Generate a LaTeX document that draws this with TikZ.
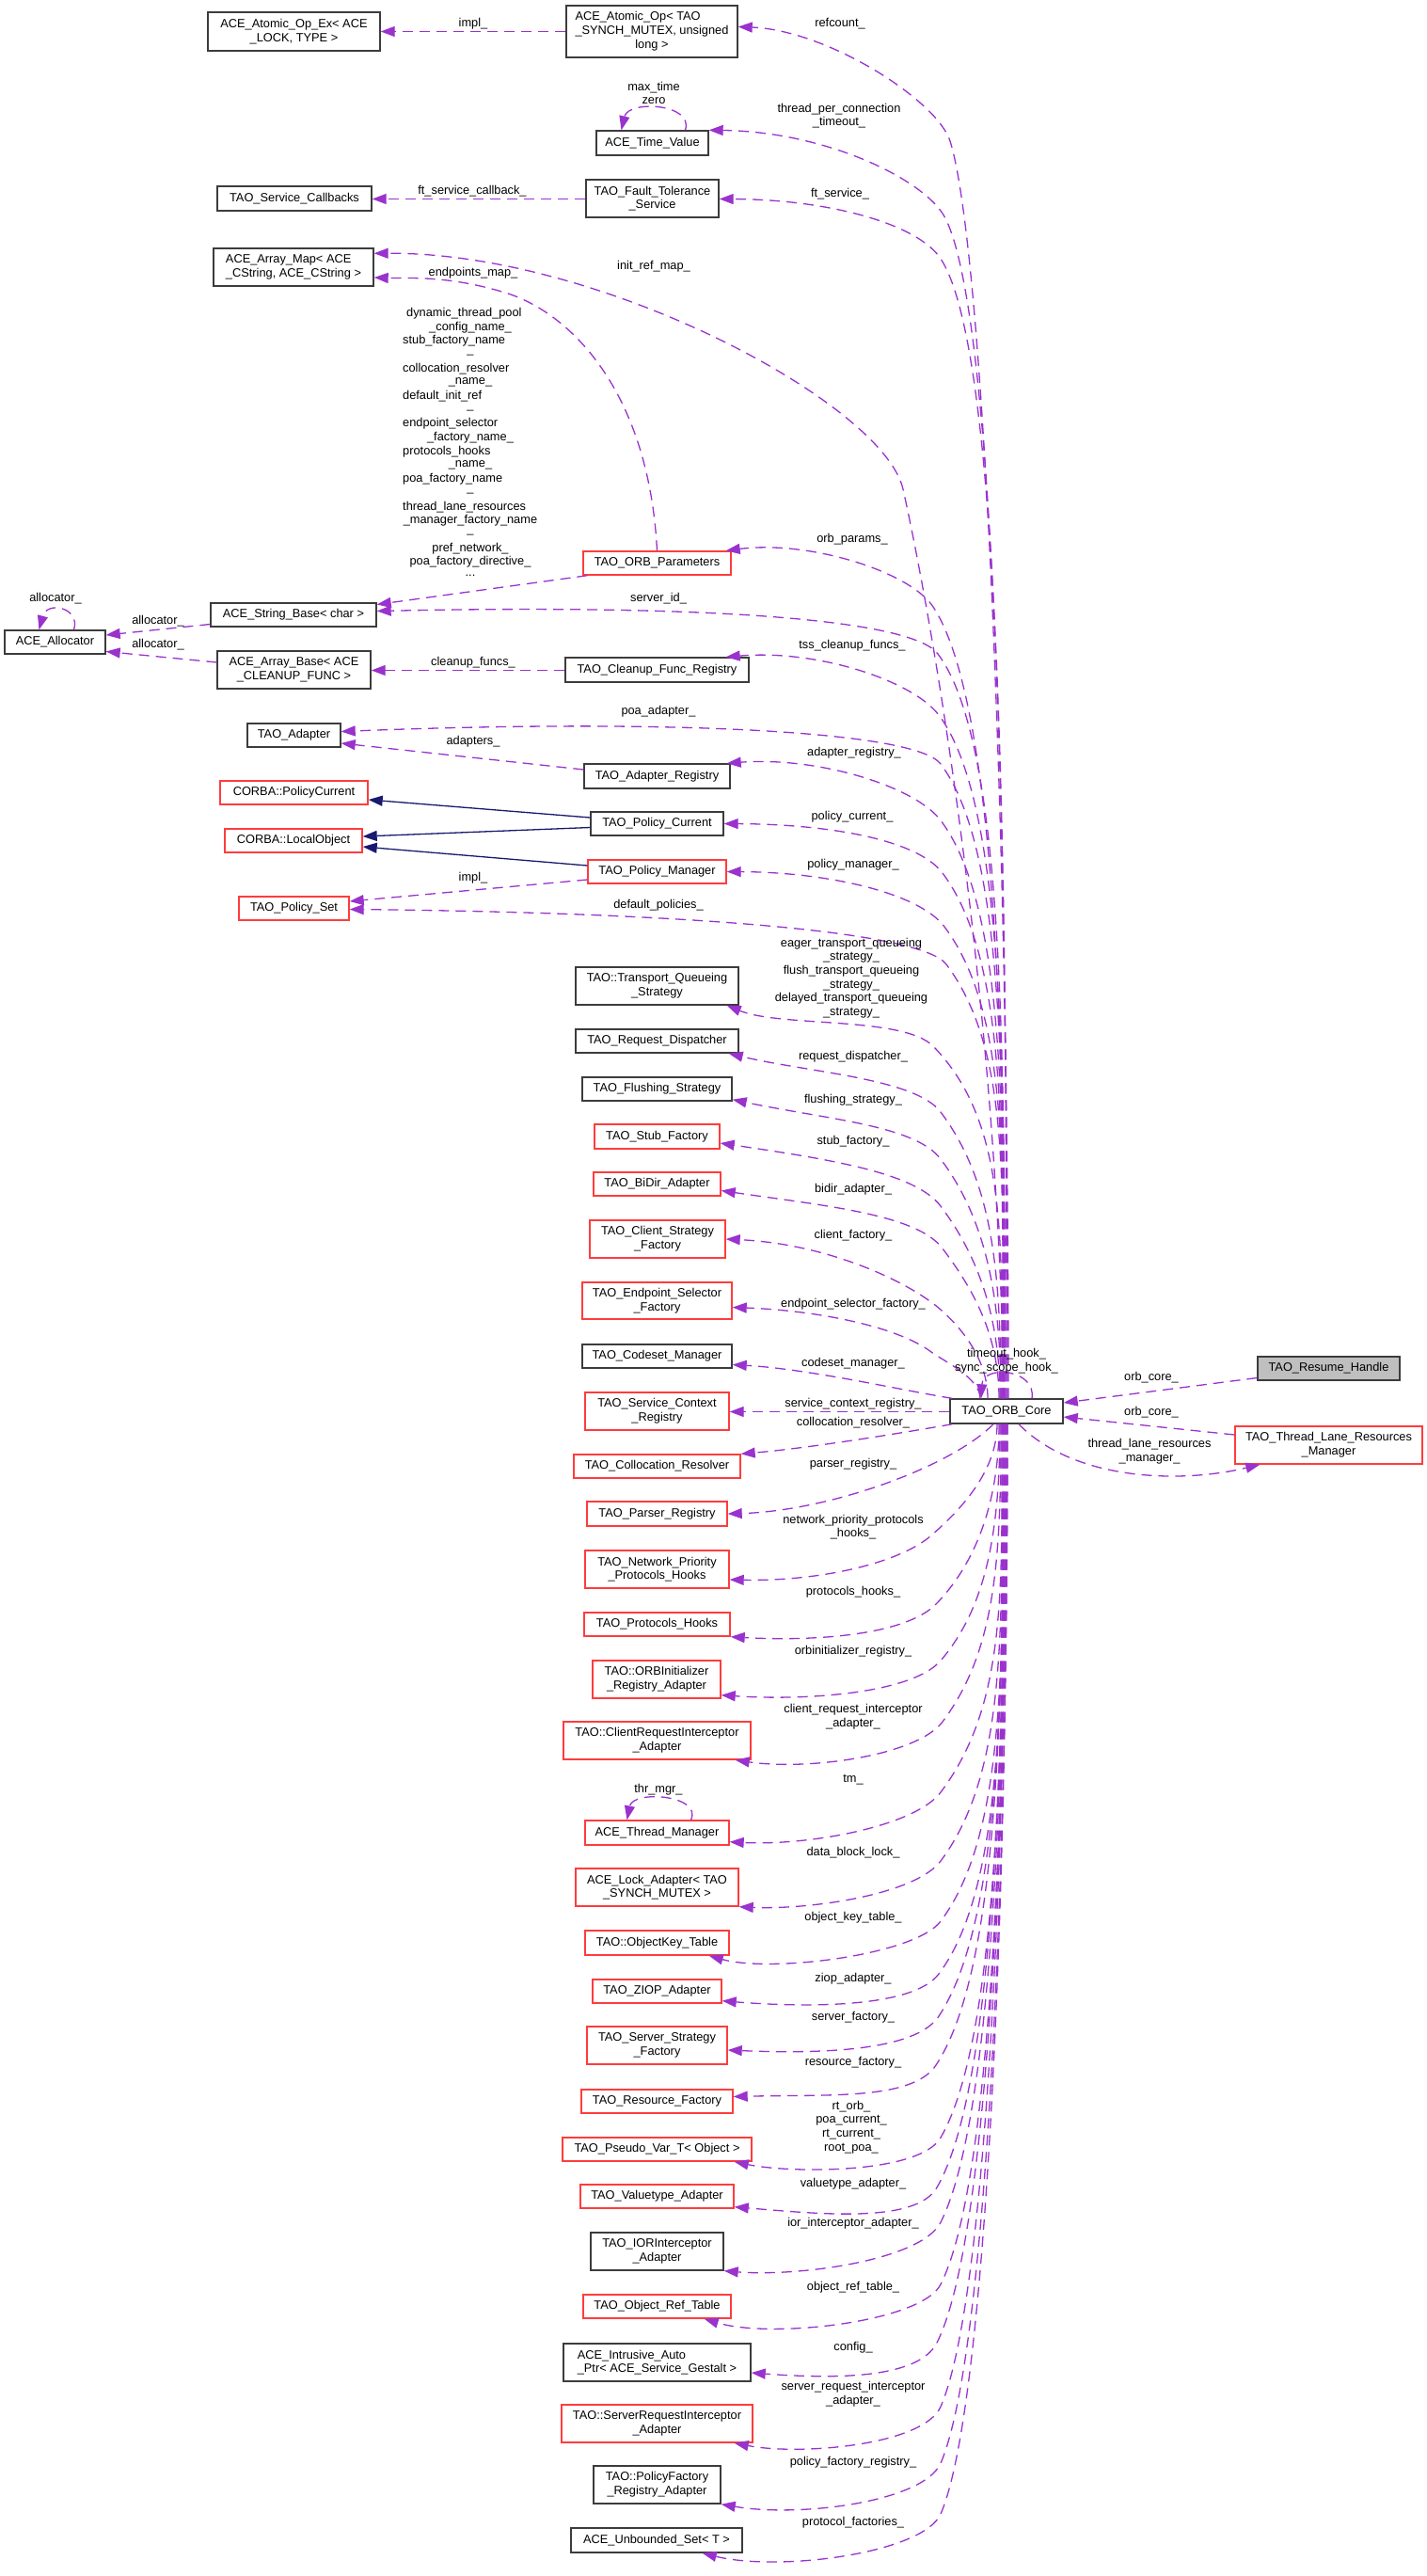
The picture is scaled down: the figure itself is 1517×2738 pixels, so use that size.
\documentclass[tikz,border=0pt]{standalone}
\usepackage{fontspec}
\setmainfont{Liberation Sans}
\usetikzlibrary{arrows.meta,calc}
\definecolor{memcol}{RGB}{154,50,205}
\definecolor{inhcol}{RGB}{25,25,112}
\definecolor{bred}{RGB}{255,60,60}
\definecolor{bblk}{RGB}{60,60,60}
\definecolor{gfill}{RGB}{191,191,191}
\tikzset{
  every node/.style={font=\fontsize{12.8}{14.7}\selectfont},
  box/.style={draw=bblk, line width=1.4pt, inner sep=0pt, align=center, fill=white},
  rbox/.style={box, draw=bred},
  gbox/.style={box, fill=gfill},
  lbl/.style={inner sep=0pt, align=center},
  memedge/.style={draw=memcol, line width=1.3pt, dash pattern=on 11pt off 7pt, -{Triangle[length=15pt,width=11pt,fill=memcol]}},
  inhedge/.style={draw=inhcol, line width=1.3pt, -{Triangle[length=15pt,width=11pt,fill=inhcol]}},
}
% box: style, x1, y1, x2, y2, name, text
\newcommand\bx[7]{\node[#1, minimum width={#4-#2}, minimum height={#5-#3}] (#6) at ({(#2+#4)/2},{(#3+#5)/2}) {#7};}
% upper member edge from core top
\newcommand\uedge[8]{\draw[memedge] ($(core.north)+(#1,0)$) .. controls ({1070+#1},{1487-0.45*(1487-#3)}) and ({#2-min(0.3*(1487-#3),120)*(#4)},{#3-min(0.3*(1487-#3),120)*(#5)}) .. (#2,#3) .. controls ({#2+45*(#4)},{#3+45*(#5)}) and (#6,#7) .. #8;}
% lower member edge from core bottom
\newcommand\ledge[8]{\draw[memedge] ($(core.south)+(#1,0)$) .. controls ({1070+#1},{1513+0.45*(#3-1513)}) and ({#2-min(0.3*(#3-1513),120)*(#4)},{#3-min(0.3*(#3-1513),120)*(#5)}) .. (#2,#3) .. controls ({#2+45*(#4)},{#3+45*(#5)}) and (#6,#7) .. #8;}

\begin{document}
\begin{tikzpicture}[x=1pt,y=-1pt]
\useasboundingbox (0,0) rectangle (1517,2738);

% ---------------- nodes ----------------
\bx{box}{221}{13}{404}{54}{atomicopex}{ACE\_Atomic\_Op\_Ex< ACE\\\_LOCK, TYPE >}
\bx{box}{602}{6}{784}{61}{atomicop}{\begin{tabular}{@{}l@{}}ACE\_Atomic\_Op< TAO\\\_SYNCH\_MUTEX, unsigned\\\multicolumn{1}{@{}c@{}}{long >}\end{tabular}}
\bx{box}{634}{139}{753}{165}{timevalue}{ACE\_Time\_Value}
\bx{box}{231}{198}{395}{224}{servicecallbacks}{TAO\_Service\_Callbacks}
\bx{box}{623}{191}{764}{231}{faulttol}{TAO\_Fault\_Tolerance\\\_Service}
\bx{box,align=left}{227}{264}{397}{304}{arraymap}{ACE\_Array\_Map< ACE\\\_CString, ACE\_CString >}
\bx{rbox}{620}{586}{777}{611}{orbparams}{TAO\_ORB\_Parameters}
\bx{box}{5}{670}{112}{695}{allocator}{ACE\_Allocator}
\bx{box}{224}{641}{400}{666}{stringbase}{ACE\_String\_Base< char >}
\bx{box}{231}{692}{394}{732}{arraybase}{ACE\_Array\_Base< ACE\\\_CLEANUP\_FUNC >}
\bx{box}{601}{699}{796}{725}{cleanupreg}{TAO\_Cleanup\_Func\_Registry}
\bx{box}{263}{769}{362}{794}{adapter}{TAO\_Adapter}
\bx{box}{621}{812}{776}{838}{adapterreg}{TAO\_Adapter\_Registry}
\bx{rbox}{234}{830}{391}{855}{policycurrentC}{CORBA::PolicyCurrent}
\bx{rbox}{239}{881}{385}{906}{localobject}{CORBA::LocalObject}
\bx{box}{628}{863}{769}{888}{policycurrent}{TAO\_Policy\_Current}
\bx{rbox}{625}{914}{772}{939}{policymanager}{TAO\_Policy\_Manager}
\bx{rbox}{254}{953}{371}{978}{policyset}{TAO\_Policy\_Set}
\bx{box}{612}{1028}{785}{1068}{tqs}{TAO::Transport\_Queueing\\\_Strategy}
\bx{box}{612}{1094}{785}{1119}{reqdisp}{TAO\_Request\_Dispatcher}
\bx{box}{619}{1145}{778}{1170}{flushing}{TAO\_Flushing\_Strategy}
\bx{rbox}{632}{1195}{765}{1221}{stubfactory}{TAO\_Stub\_Factory}
\bx{rbox}{631}{1246}{766}{1271}{bidir}{TAO\_BiDir\_Adapter}
\bx{rbox}{627}{1297}{771}{1337}{clientstrat}{TAO\_Client\_Strategy\\\_Factory}
\bx{rbox}{619}{1363}{778}{1402}{endpointsel}{TAO\_Endpoint\_Selector\\\_Factory}
\bx{box}{619}{1429}{778}{1454}{codeset}{TAO\_Codeset\_Manager}
\bx{rbox}{622}{1480}{775}{1520}{svcctx}{TAO\_Service\_Context\\\_Registry}
\bx{rbox}{610}{1546}{787}{1571}{colloc}{TAO\_Collocation\_Resolver}
\bx{rbox}{624}{1596}{773}{1622}{parser}{TAO\_Parser\_Registry}
\bx{rbox}{622}{1648}{775}{1688}{netprio}{TAO\_Network\_Priority\\\_Protocols\_Hooks}
\bx{rbox}{621}{1714}{776}{1739}{protohooks}{TAO\_Protocols\_Hooks}
\bx{rbox}{630}{1765}{766}{1805}{orbinit}{TAO::ORBInitializer\\\_Registry\_Adapter}
\bx{rbox}{599}{1830}{798}{1870}{clientreq}{TAO::ClientRequestInterceptor\\\_Adapter}
\bx{rbox}{622}{1935}{775}{1961}{threadmgr}{ACE\_Thread\_Manager}
\bx{rbox}{612}{1986}{785}{2026}{lockadapter}{ACE\_Lock\_Adapter< TAO\\\_SYNCH\_MUTEX >}
\bx{rbox}{622}{2052}{775}{2078}{objkey}{TAO::ObjectKey\_Table}
\bx{rbox}{630}{2104}{767}{2129}{ziop}{TAO\_ZIOP\_Adapter}
\bx{rbox}{624}{2154}{773}{2194}{serverstrat}{TAO\_Server\_Strategy\\\_Factory}
\bx{rbox}{618}{2221}{779}{2246}{resource}{TAO\_Resource\_Factory}
\bx{rbox}{598}{2272}{799}{2297}{pseudovar}{TAO\_Pseudo\_Var\_T< Object >}
\bx{rbox}{617}{2322}{780}{2347}{valuetype}{TAO\_Valuetype\_Adapter}
\bx{box}{628}{2373}{769}{2413}{iorint}{TAO\_IORInterceptor\\\_Adapter}
\bx{rbox}{620}{2439}{777}{2464}{objref}{TAO\_Object\_Ref\_Table}
\bx{box,align=left}{599}{2491}{798}{2531}{intrusive}{ACE\_Intrusive\_Auto\\\_Ptr< ACE\_Service\_Gestalt >}
\bx{rbox}{597}{2556}{800}{2596}{serverreq}{TAO::ServerRequestInterceptor\\\_Adapter}
\bx{box}{631}{2621}{766}{2661}{policyfactory}{TAO::PolicyFactory\\\_Registry\_Adapter}
\bx{box}{607}{2687}{789}{2713}{unbounded}{ACE\_Unbounded\_Set< T >}
\bx{box}{1010}{1487}{1130}{1513}{core}{TAO\_ORB\_Core}
\bx{gbox}{1337}{1442}{1488}{1467}{resume}{TAO\_Resume\_Handle}
\bx{rbox}{1313}{1516}{1512}{1556}{tlrm}{TAO\_Thread\_Lane\_Resources\\\_Manager}

% ---------------- edges among left nodes ----------------
\draw[memedge] (atomicop.west) -- (atomicopex.east);
\draw[memedge] ($(faulttol.west)+(0,0.5)$) -- ($(servicecallbacks.east)+(0,0.5)$);
\draw[memedge] (orbparams.north) .. controls (690,420) and (610,335) .. (540,312) .. controls (477,292) and (430,296) .. ($(arraymap.east)+(0,11)$);
\draw[memedge] ($(orbparams.south west)+(5,0)$) -- ($(stringbase.east)+(0,-11)$);
\draw[memedge] ($(stringbase.west)+(0,10)$) -- ($(allocator.east)+(0,-7.5)$);
\draw[memedge] ($(arraybase.west)+(0,-8)$) -- ($(allocator.east)+(0,10)$);
\draw[memedge] ($(allocator.north)+(20,0)$) .. controls (86,646) and (50,638) .. ($(allocator.north)+(-17,0)$);
\draw[memedge] ($(cleanupreg.west)+(0,0.5)$) -- ($(arraybase.east)+(0,0.5)$);
\draw[memedge] ($(adapterreg.west)+(0,-7)$) -- ($(adapter.east)+(0,8.5)$);
\draw[inhedge] ($(policycurrent.west)+(0,-6.5)$) -- ($(policycurrentC.east)+(0,7.5)$);
\draw[inhedge] ($(policycurrent.west)+(0,4)$) -- ($(localobject.east)+(0,-4.5)$);
\draw[inhedge] ($(policymanager.west)+(0,-6.5)$) -- ($(localobject.east)+(0,6.5)$);
\draw[memedge] ($(policymanager.west)+(0,8.5)$) -- ($(policyset.east)+(0,-7.5)$);
\draw[memedge] ($(timevalue.north)+(35,0)$) .. controls (738,110) and (668,106) .. ($(timevalue.north)+(-33,0)$);
\draw[memedge] ($(threadmgr.north)+(36,0)$) .. controls (747,1908) and (673,1902) .. ($(threadmgr.north)+(-32,0)$);

% ---------------- edges from TAO_ORB_Core (upper) ----------------
\uedge{2}{1010}{150}{-0.3}{-0.954}{880}{32}{($(atomicop.east)+(0,-5)$)}
\uedge{1}{1005}{232}{-0.45}{-0.893}{880}{140}{(timevalue.north east)}
\uedge{0}{1000}{275}{-0.55}{-0.835}{880}{212}{($(faulttol.east)+(0,0.5)$)}
\draw[memedge] ($(core.north)+(-3,0)$) .. controls (1062,1100) and (1000,700) .. (960,520) .. controls (940,430) and (640,268) .. ($(arraymap.north east)+(0,6)$);
\uedge{-1}{992}{645}{-0.55}{-0.835}{860}{574}{($(orbparams.north east)+(-6,0)$)}
\uedge{-2}{997}{695}{-0.6}{-0.8}{760}{642}{($(stringbase.east)+(0,-4)$)}
\uedge{-2}{998}{760}{-0.6}{-0.8}{870}{690}{($(cleanupreg.north east)+(-25,0)$)}
\uedge{-3}{1000}{812}{-0.6}{-0.8}{700}{764}{($(adapter.east)+(0,-4)$)}
\uedge{-3}{1000}{872}{-0.6}{-0.8}{870}{804}{($(adapterreg.north east)+(-4,0)$)}
\uedge{-4}{1002}{928}{-0.6}{-0.8}{880}{876}{(policycurrent.east)}
\uedge{-4}{1004}{985}{-0.6}{-0.8}{880}{927}{(policymanager.east)}
\uedge{-5}{1006}{1025}{-0.6}{-0.8}{720}{970}{($(policyset.east)+(0,1)$)}
\uedge{-5}{992}{1112}{-0.7}{-0.714}{830}{1092}{($(tqs.south east)+(-13,0)$)}
\uedge{-6}{1000}{1182}{-0.6}{-0.8}{860}{1140}{($(reqdisp.south east)+(-11,0)$)}
\uedge{-6}{1000}{1232}{-0.6}{-0.8}{880}{1190}{($(flushing.south east)+(0,-2)$)}
\uedge{-7}{1000}{1282}{-0.6}{-0.8}{880}{1232}{($(stubfactory.east)+(0,7)$)}
\uedge{-8}{1002}{1327}{-0.6}{-0.8}{880}{1282}{($(bidir.east)+(0,7)$)}
\uedge{-20}{1000}{1392}{-0.75}{-0.66}{880}{1322}{(clientstrat.east)}
\uedge{-28}{990}{1437}{-0.8}{-0.6}{870}{1393}{($(endpointsel.east)+(0,7)$)}
\draw[memedge] ($(core.north west)+(3,0)$) .. controls (960,1478) and (860,1455) .. ($(codeset.east)+(0,9)$);
\draw[memedge] ($(core.west)+(0,0.5)$) -- ($(svcctx.east)+(0,0.5)$);
\draw[memedge] ($(core.south west)+(3,0)$) .. controls (930,1528) and (850,1540) .. (colloc.north east);
\draw[memedge] ($(core.south)+(-14,0)$) .. controls (1010,1560) and (880,1606) .. (parser.east);

% ---------------- edges from TAO_ORB_Core (lower) ----------------
\ledge{-10}{990}{1632}{-0.75}{0.66}{870}{1681}{($(netprio.east)+(0,11)$)}
\ledge{-8}{995}{1705}{-0.7}{0.714}{870}{1745}{(protohooks.south east)}
\ledge{-7}{1000}{1765}{-0.65}{0.76}{860}{1808}{($(orbinit.south east)+(0,-4)$)}
\ledge{-6}{1002}{1830}{-0.6}{0.8}{860}{1882}{($(clientreq.south east)+(-17,0)$)}
\ledge{-5}{1000}{1905}{-0.6}{0.8}{860}{1962}{($(threadmgr.south east)+(0,-4)$)}
\ledge{-5}{1000}{1978}{-0.6}{0.8}{860}{2030}{(lockadapter.south east)}
\ledge{-4}{1000}{2042}{-0.6}{0.8}{820}{2097}{($(objkey.south east)+(-22,0)$)}
\ledge{-4}{998}{2098}{-0.6}{0.8}{860}{2134}{($(ziop.south east)+(0,-3)$)}
\ledge{-3}{998}{2143}{-0.55}{0.835}{870}{2183}{($(serverstrat.east)+(0,5)$)}
\ledge{-3}{995}{2195}{-0.55}{0.835}{880}{2226}{($(resource.east)+(0,-5)$)}
\ledge{-2}{1000}{2272}{-0.5}{0.866}{840}{2310}{($(pseudovar.south east)+(-19,0)$)}
\ledge{-2}{996}{2325}{-0.5}{0.866}{870}{2353}{($(valuetype.south east)+(0,-2)$)}
\ledge{-1}{1000}{2362}{-0.45}{0.893}{850}{2420}{(iorint.south east)}
\ledge{-1}{1000}{2428}{-0.45}{0.893}{820}{2486}{($(objref.south east)+(-29,0)$)}
\ledge{0}{996}{2490}{-0.45}{0.893}{880}{2528}{($(intrusive.east)+(0,11)$)}
\ledge{0}{1000}{2558}{-0.4}{0.917}{850}{2610}{($(serverreq.south east)+(-20,0)$)}
\ledge{1}{1000}{2618}{-0.4}{0.917}{850}{2676}{(policyfactory.south east)}
\ledge{1}{1000}{2672}{-0.4}{0.917}{830}{2734}{($(unbounded.south east)+(-43,0)$)}

% ---------------- right side ----------------
\draw[memedge] ($(core.north)+(27,0)$) .. controls (1102,1455) and (1045,1450) .. ($(core.north)+(-27,0)$);
\draw[memedge] ($(resume.west)+(0,10)$) -- ($(core.east)+(0,-9)$);
\draw[memedge] ($(tlrm.west)+(0,-11)$) -- ($(core.east)+(0,6)$);
\draw[memedge] ($(core.south)+(13,0)$) .. controls (1140,1572) and (1250,1578) .. ($(tlrm.south west)+(27,0)$);

% ---------------- labels ----------------
\node[lbl] (l1) at (503,25) {impl\_};
\node[lbl] (l2) at (893,25) {refcount\_};
\node[lbl] (l3) at (695,99) {max\_time\\zero};
\node[lbl] (l4) at (892,123) {thread\_per\_connection\\\_timeout\_};
\node[lbl] (l5) at (502,203) {ft\_service\_callback\_};
\node[lbl] (l6) at (893,206) {ft\_service\_};
\node[lbl] (l7) at (695,283) {init\_ref\_map\_};
\node[lbl] (l8) at (503,290) {endpoints\_map\_};
\node[lbl,anchor=west] (m0) at (432,333) {dynamic\_thread\_pool};
\node[lbl] (m1) at (500,347.7) {\_config\_name\_};
\node[lbl,anchor=west] (m2) at (428,362.4) {stub\_factory\_name};
\node[lbl] (m3) at (500,377.1) {\_};
\node[lbl,anchor=west] (m4) at (428,391.8) {collocation\_resolver};
\node[lbl] (m5) at (500,406.5) {\_name\_};
\node[lbl,anchor=west] (m6) at (428,421.2) {default\_init\_ref};
\node[lbl] (m7) at (500,435.9) {\_};
\node[lbl,anchor=west] (m8) at (428,450.6) {endpoint\_selector};
\node[lbl] (m9) at (500,465.3) {\_factory\_name\_};
\node[lbl,anchor=west] (m10) at (428,480) {protocols\_hooks};
\node[lbl] (m11) at (500,494.7) {\_name\_};
\node[lbl,anchor=west] (m12) at (428,509.4) {poa\_factory\_name};
\node[lbl] (m13) at (500,524.1) {\_};
\node[lbl,anchor=west] (m14) at (428,538.8) {thread\_lane\_resources};
\node[lbl] (m15) at (500,553.5) {\_manager\_factory\_name};
\node[lbl] (m16) at (500,568.2) {\_};
\node[lbl] (m17) at (500,582.9) {pref\_network\_};
\node[lbl] (m18) at (500,597.6) {poa\_factory\_directive\_};
\node[lbl] (m19) at (500,612.3) {...};
\node[lbl] (l9) at (906,573) {orb\_params\_};
\node[lbl] (l10) at (700,636) {server\_id\_};
\node[lbl] (l11) at (59,636) {allocator\_};
\node[lbl] (l12) at (168,660) {allocator\_};
\node[lbl] (l13) at (168,685) {allocator\_};
\node[lbl] (l14) at (906,686) {tss\_cleanup\_funcs\_};
\node[lbl] (l15) at (503,704) {cleanup\_funcs\_};
\node[lbl] (l16) at (700,756) {poa\_adapter\_};
\node[lbl] (l17) at (503,788) {adapters\_};
\node[lbl] (l18) at (908,800) {adapter\_registry\_};
\node[lbl] (l19) at (906,868) {policy\_current\_};
\node[lbl] (l20) at (907,919) {policy\_manager\_};
\node[lbl] (l21) at (503,933) {impl\_};
\node[lbl] (l22) at (700,962) {default\_policies\_};
\node[lbl] (l23) at (905,1039.5) {eager\_transport\_queueing\\\_strategy\_\\flush\_transport\_queueing\\\_strategy\_\\delayed\_transport\_queueing\\\_strategy\_};
\node[lbl] (l24) at (907,1123) {request\_dispatcher\_};
\node[lbl] (l25) at (907,1169) {flushing\_strategy\_};
\node[lbl] (l26) at (907,1213) {stub\_factory\_};
\node[lbl] (l27) at (907,1264) {bidir\_adapter\_};
\node[lbl] (l28) at (907,1313) {client\_factory\_};
\node[lbl] (l29) at (907,1386) {endpoint\_selector\_factory\_};
\node[lbl] (l30) at (907,1449) {codeset\_manager\_};
\node[lbl] (l31) at (907,1492) {service\_context\_registry\_};
\node[lbl] (l32) at (907,1512) {collocation\_resolver\_};
\node[lbl] (l33) at (907,1556) {parser\_registry\_};
\node[lbl] (l34) at (907,1623) {network\_priority\_protocols\\\_hooks\_};
\node[lbl] (l35) at (907,1692) {protocols\_hooks\_};
\node[lbl] (l36) at (907,1755) {orbinitializer\_registry\_};
\node[lbl] (l37) at (907,1825) {client\_request\_interceptor\\\_adapter\_};
\node[lbl] (l38) at (907,1892) {tm\_};
\node[lbl] (l39) at (700,1902) {thr\_mgr\_};
\node[lbl] (l40) at (907,1969) {data\_block\_lock\_};
\node[lbl] (l41) at (907,2038) {object\_key\_table\_};
\node[lbl] (l42) at (907,2103) {ziop\_adapter\_};
\node[lbl] (l43) at (907,2144) {server\_factory\_};
\node[lbl] (l44) at (907,2192) {resource\_factory\_};
\node[lbl] (l45) at (905,2261) {rt\_orb\_\\poa\_current\_\\rt\_current\_\\root\_poa\_};
\node[lbl] (l46) at (907,2321) {valuetype\_adapter\_};
\node[lbl] (l47) at (907,2363) {ior\_interceptor\_adapter\_};
\node[lbl] (l48) at (907,2431) {object\_ref\_table\_};
\node[lbl] (l49) at (907,2495) {config\_};
\node[lbl] (l50) at (907,2545) {server\_request\_interceptor\\\_adapter\_};
\node[lbl] (l51) at (907,2617) {policy\_factory\_registry\_};
\node[lbl] (l52) at (907,2681) {protocol\_factories\_};
\node[lbl] (l53) at (1070,1447) {timeout\_hook\_\\sync\_scope\_hook\_};
\node[lbl] (l54) at (1224,1464) {orb\_core\_};
\node[lbl] (l55) at (1224,1501) {orb\_core\_};
\node[lbl] (l56) at (1222,1543) {thread\_lane\_resources\\\_manager\_};
\end{tikzpicture}
\end{document}
